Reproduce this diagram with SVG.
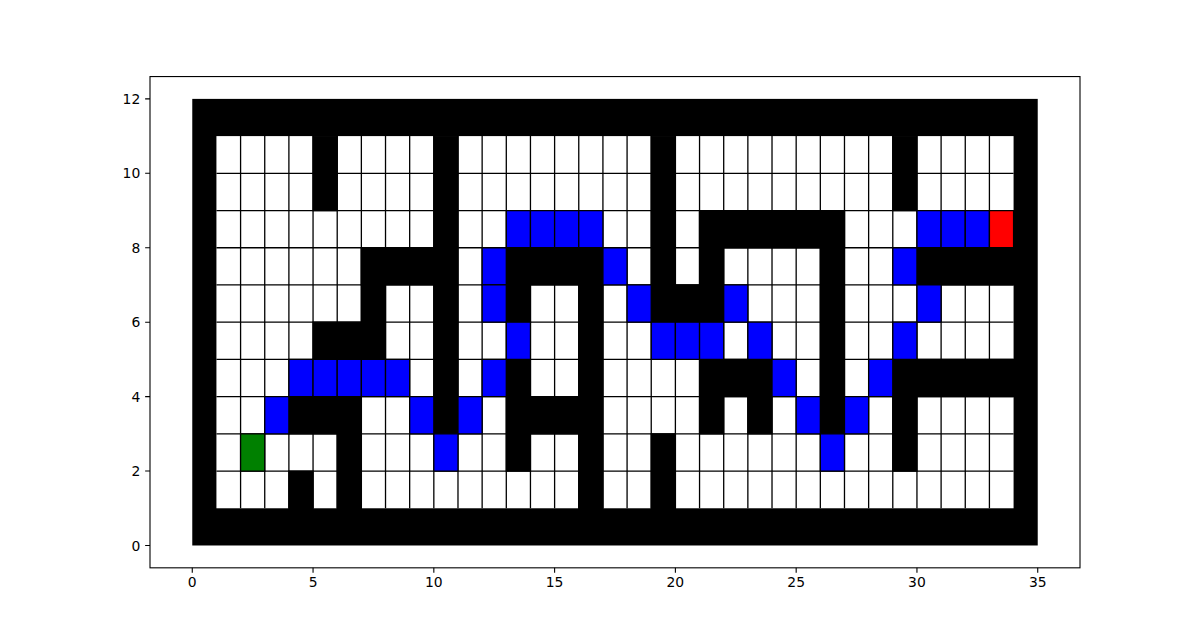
<svg xmlns="http://www.w3.org/2000/svg" width="1200" height="638" viewBox="0 0 1200 638">
<style>
.ax{fill:none;stroke:#000;stroke-width:1.1}
.tk{stroke:#000;stroke-width:1.1}
.lbl{font-family:"DejaVu Sans",sans-serif;font-size:13.9px;fill:#000}
.grid{fill:none;stroke:#000;stroke-width:1.3;vector-effect:non-scaling-stroke}
.wall{fill:#000;stroke:#000;stroke-width:1.3;vector-effect:non-scaling-stroke}
.p{fill:#0000ff;stroke:#000;stroke-width:1.3;vector-effect:non-scaling-stroke}
.s{fill:#008000;stroke:#000;stroke-width:1.3;vector-effect:non-scaling-stroke}
.e{fill:#ff0000;stroke:#000;stroke-width:1.3;vector-effect:non-scaling-stroke}
</style>
<rect width="1200" height="638" fill="#fff"/>
<g id="maze" transform="matrix(24.156 0 0 -37.217 192.27 545.49)">
<rect x="0" y="0" width="35" height="12" fill="#000"/>
<rect x="1" y="1" width="33" height="10" fill="#fff"/>
<path class="grid" d="M2 1V11M3 1V11M4 1V11M5 1V11M6 1V11M7 1V11M8 1V11M9 1V11M10 1V11M11 1V11M12 1V11M13 1V11M14 1V11M15 1V11M16 1V11M17 1V11M18 1V11M19 1V11M20 1V11M21 1V11M22 1V11M23 1V11M24 1V11M25 1V11M26 1V11M27 1V11M28 1V11M29 1V11M30 1V11M31 1V11M32 1V11M33 1V11M1 2H34M1 3H34M1 4H34M1 5H34M1 6H34M1 7H34M1 8H34M1 9H34M1 10H34"/>
<g id="walls">
<rect class="wall" x="5" y="9" width="1" height="2"/>
<rect class="wall" x="10" y="3" width="1" height="8"/>
<rect class="wall" x="19" y="6" width="1" height="5"/>
<rect class="wall" x="29" y="9" width="1" height="2"/>
<rect class="wall" x="21" y="8" width="6" height="1"/>
<rect class="wall" x="7" y="7" width="3" height="1"/>
<rect class="wall" x="7" y="5" width="1" height="3"/>
<rect class="wall" x="5" y="5" width="2" height="1"/>
<rect class="wall" x="13" y="7" width="4" height="1"/>
<rect class="wall" x="13" y="6" width="1" height="1"/>
<rect class="wall" x="16" y="1" width="1" height="7"/>
<rect class="wall" x="21" y="6" width="1" height="3"/>
<rect class="wall" x="20" y="6" width="1" height="1"/>
<rect class="wall" x="26" y="3" width="1" height="6"/>
<rect class="wall" x="30" y="7" width="4" height="1"/>
<rect class="wall" x="13" y="2" width="1" height="3"/>
<rect class="wall" x="14" y="3" width="2" height="1"/>
<rect class="wall" x="21" y="4" width="3" height="1"/>
<rect class="wall" x="21" y="3" width="1" height="1"/>
<rect class="wall" x="23" y="3" width="1" height="1"/>
<rect class="wall" x="29" y="4" width="5" height="1"/>
<rect class="wall" x="29" y="2" width="1" height="3"/>
<rect class="wall" x="4" y="3" width="3" height="1"/>
<rect class="wall" x="6" y="1" width="1" height="3"/>
<rect class="wall" x="4" y="1" width="1" height="1"/>
<rect class="wall" x="19" y="1" width="1" height="2"/>
</g>
<g id="path">
<rect class="p" x="13" y="8" width="1" height="1"/>
<rect class="p" x="14" y="8" width="1" height="1"/>
<rect class="p" x="15" y="8" width="1" height="1"/>
<rect class="p" x="16" y="8" width="1" height="1"/>
<rect class="p" x="30" y="8" width="1" height="1"/>
<rect class="p" x="31" y="8" width="1" height="1"/>
<rect class="p" x="32" y="8" width="1" height="1"/>
<rect class="p" x="12" y="7" width="1" height="1"/>
<rect class="p" x="17" y="7" width="1" height="1"/>
<rect class="p" x="29" y="7" width="1" height="1"/>
<rect class="p" x="12" y="6" width="1" height="1"/>
<rect class="p" x="18" y="6" width="1" height="1"/>
<rect class="p" x="22" y="6" width="1" height="1"/>
<rect class="p" x="30" y="6" width="1" height="1"/>
<rect class="p" x="13" y="5" width="1" height="1"/>
<rect class="p" x="19" y="5" width="1" height="1"/>
<rect class="p" x="20" y="5" width="1" height="1"/>
<rect class="p" x="21" y="5" width="1" height="1"/>
<rect class="p" x="23" y="5" width="1" height="1"/>
<rect class="p" x="29" y="5" width="1" height="1"/>
<rect class="p" x="4" y="4" width="1" height="1"/>
<rect class="p" x="5" y="4" width="1" height="1"/>
<rect class="p" x="6" y="4" width="1" height="1"/>
<rect class="p" x="7" y="4" width="1" height="1"/>
<rect class="p" x="8" y="4" width="1" height="1"/>
<rect class="p" x="12" y="4" width="1" height="1"/>
<rect class="p" x="24" y="4" width="1" height="1"/>
<rect class="p" x="28" y="4" width="1" height="1"/>
<rect class="p" x="3" y="3" width="1" height="1"/>
<rect class="p" x="9" y="3" width="1" height="1"/>
<rect class="p" x="11" y="3" width="1" height="1"/>
<rect class="p" x="25" y="3" width="1" height="1"/>
<rect class="p" x="27" y="3" width="1" height="1"/>
<rect class="p" x="10" y="2" width="1" height="1"/>
<rect class="p" x="26" y="2" width="1" height="1"/>
</g>
<rect id="start" class="s" x="2" y="2" width="1" height="1"/>
<rect id="goal" class="e" x="33" y="8" width="1" height="1"/>
</g>
<g id="axes">
<rect class="ax" x="150" y="76.56" width="930" height="491.26"/>
<path class="tk" d="M192.27 567.82v4.86M313.05 567.82v4.86M433.83 567.82v4.86M554.61 567.82v4.86M675.39 567.82v4.86M796.17 567.82v4.86M916.95 567.82v4.86M1037.73 567.82v4.86M150 545.49h-4.86M150 471.06h-4.86M150 396.62h-4.86M150 322.19h-4.86M150 247.75h-4.86M150 173.32h-4.86M150 98.89h-4.86"/>
<g class="lbl" text-anchor="middle">
<text x="192.27" y="587">0</text>
<text x="313.05" y="587">5</text>
<text x="433.83" y="587">10</text>
<text x="554.61" y="587">15</text>
<text x="675.39" y="587">20</text>
<text x="796.17" y="587">25</text>
<text x="916.95" y="587">30</text>
<text x="1037.73" y="587">35</text>
</g>
<g class="lbl" text-anchor="end">
<text x="140.3" y="550.5">0</text>
<text x="140.3" y="476.1">2</text>
<text x="140.3" y="401.6">4</text>
<text x="140.3" y="327.2">6</text>
<text x="140.3" y="252.8">8</text>
<text x="140.3" y="178.3">10</text>
<text x="140.3" y="103.9">12</text>
</g>
</g>
</svg>
